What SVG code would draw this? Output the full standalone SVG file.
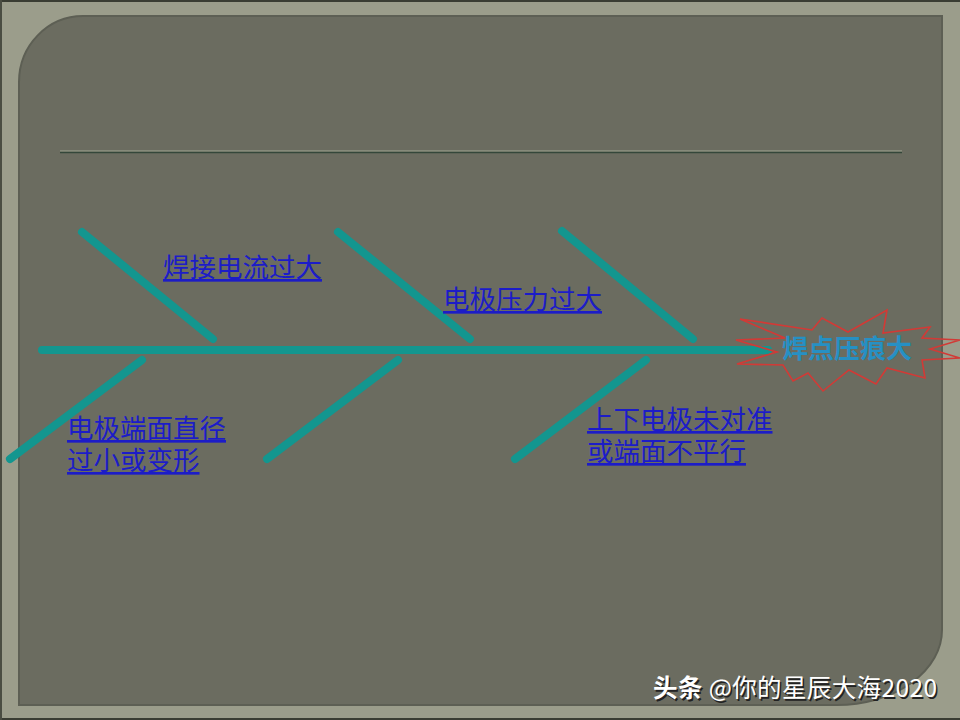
<svg xmlns="http://www.w3.org/2000/svg" width="960" height="720" viewBox="0 0 960 720">
<style>
.bone{stroke:#13968f;stroke-width:8;stroke-linecap:round;fill:none}
.lbl{font-family:"Noto Sans CJK SC","Liberation Serif",serif;font-size:26.5px;fill:#1c1cc8;text-decoration:underline}
.wm{font-family:"Noto Sans CJK SC","Liberation Sans",sans-serif;font-size:24.5px}
</style>
<rect x="0" y="0" width="960" height="720" fill="#9b9d8b"/>
<line x1="0" y1="1" x2="960" y2="1" stroke="#3a3d33" stroke-width="2"/>
<line x1="0" y1="719" x2="960" y2="719" stroke="#3a3d33" stroke-width="2"/>
<line x1="1" y1="0" x2="1" y2="720" stroke="#4a4d42" stroke-width="2"/>
<path d="M19,82 A64,66 0 0 1 83,16 L942,16 L942,630 A105,75 0 0 1 837,705 L19,705 Z" fill="#6b6c60" stroke="#5d5f54" stroke-width="2"/>
<line x1="60" y1="151" x2="902" y2="151" stroke="#a3a894" stroke-width="1"/>
<line x1="60" y1="152.5" x2="902" y2="152.5" stroke="#34473a" stroke-width="1.6"/>
<g id="connectors">
<line class="bone" x1="42" y1="350" x2="768" y2="350"/>
<line class="bone" x1="82" y1="232" x2="213" y2="339"/>
<line class="bone" x1="338" y1="232" x2="470" y2="339"/>
<line class="bone" x1="562" y1="231" x2="693" y2="339"/>
<line class="bone" x1="142" y1="360" x2="10" y2="459"/>
<line class="bone" x1="398" y1="360" x2="267" y2="459"/>
<line class="bone" x1="646" y1="360" x2="515" y2="459"/>
</g>
<g id="effect">
<polygon points="740,319 812,330 822,318 848,332 887,310 883,333 930,327 922,338 960,340 930,349 960,358 922,360 925,378 887,368 876,384 849,370 823,391 808,373 793,381 783,365 737,364 777,352 736,340 785,338" fill="none" stroke="#d23a36" stroke-width="1.6" stroke-linejoin="miter"/>
<text x="847" y="358" text-anchor="middle" font-family="Liberation Serif,'Noto Sans CJK SC',serif" font-size="26" font-weight="bold" fill="#2690c4">焊点压痕大</text>
</g>
<g id="cause1"><text class="lbl" x="163" y="277">焊接电流过大</text></g>
<g id="cause2"><text class="lbl" x="443" y="309">电极压力过大</text></g>
<g id="cause3"><text class="lbl" x="67" y="438">电极端面直径</text><text class="lbl" x="67" y="470">过小或变形</text></g>
<g id="cause4"><text class="lbl" x="587" y="429">上下电极未对准</text><text class="lbl" x="587" y="461">或端面不平行</text></g>
<g id="watermark">
<text class="wm" x="654.5" y="698.5" fill="#222" textLength="284"><tspan font-weight="bold">头条</tspan> @你的星辰大海2020</text>
<text class="wm" x="653" y="697" fill="#ffffff" textLength="284"><tspan font-weight="bold">头条</tspan> @你的星辰大海2020</text>
</g>
</svg>
